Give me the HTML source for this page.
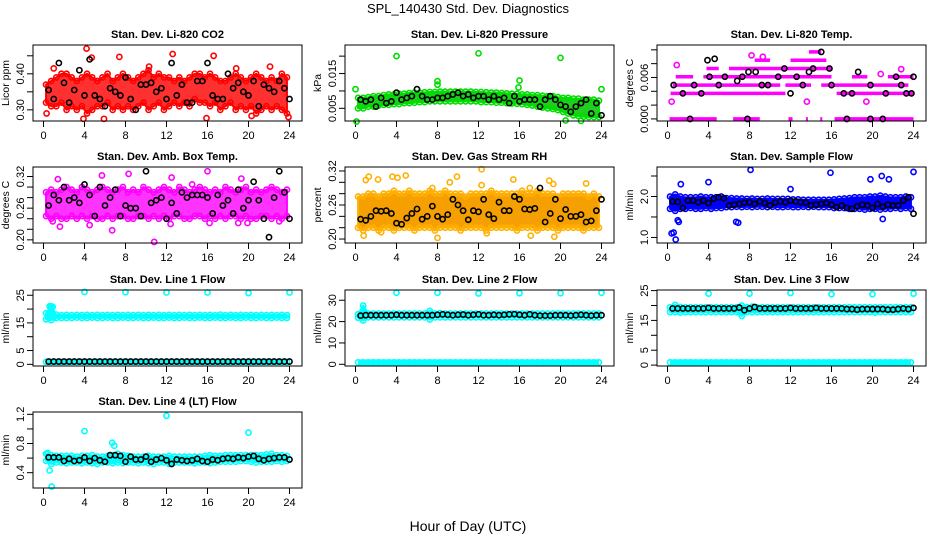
<!DOCTYPE html>
<html><head><meta charset="utf-8"><style>
html,body{margin:0;padding:0;background:#fff;}
svg{display:block;font-family:"Liberation Sans",sans-serif;}
</style></head><body>
<svg id="chart" width="936" height="540" viewBox="0 0 936 540">
<rect x="0" y="0" width="936" height="540" fill="#fff"/>
<text x="468" y="13" text-anchor="middle" font-size="13">SPL_140430  Std. Dev. Diagnostics</text>
<text x="468" y="531" text-anchor="middle" font-size="14">Hour of Day (UTC)</text>
</svg>
<script>
// ---------- data ----------
const xTicks = [0,4,8,12,16,20,24];

// CO2
const co2Lo = [0.32,0.31,0.31,0.32,0.30,0.31,0.30,0.31,0.29,0.30,0.31,0.31,0.32,0.30,0.31,0.30,0.31,0.30,0.31,0.32,0.30,0.31,0.32,0.30,0.31,0.32,0.31,0.32,0.31,0.33,0.32,0.32,0.31,0.32,0.30,0.31,0.32,0.30,0.31,0.30,0.31,0.29,0.30,0.31,0.30,0.31,0.30,0.29];
const co2Hi = [0.37,0.38,0.39,0.40,0.40,0.39,0.38,0.39,0.40,0.39,0.38,0.39,0.40,0.38,0.39,0.40,0.39,0.38,0.39,0.40,0.41,0.39,0.40,0.39,0.39,0.38,0.39,0.38,0.39,0.40,0.40,0.39,0.40,0.39,0.38,0.38,0.39,0.40,0.39,0.38,0.39,0.40,0.39,0.38,0.39,0.38,0.40,0.39];
const co2Black = [0.355,0.33,0.43,0.375,0.32,0.355,0.41,0.34,0.44,0.34,0.33,0.31,0.36,0.35,0.34,0.39,0.33,0.30,0.37,0.37,0.375,0.35,0.36,0.33,0.43,0.34,0.37,0.32,0.32,0.38,0.38,0.43,0.34,0.33,0.33,0.40,0.36,0.375,0.35,0.34,0.38,0.31,0.37,0.36,0.35,0.38,0.36,0.33];
const co2Out = [[4.2,0.47],[4.7,0.445],[7.4,0.447],[12.6,0.455],[16.6,0.45],[3.9,0.275],[5.9,0.275],[20.3,0.283],[15.9,0.277],[23.9,0.28],[0.3,0.29],[1.0,0.415],[10.3,0.42],[18.8,0.415],[22.1,0.42]];

// Pressure
const presLo = [0.0050,0.0050,0.0055,0.0055,0.0058,0.0060,0.0060,0.0062,0.0062,0.0065,0.0065,0.0066,0.0068,0.0068,0.0070,0.0070,0.0070,0.0070,0.0070,0.0070,0.0070,0.0070,0.0070,0.0070,0.0068,0.0068,0.0068,0.0066,0.0066,0.0065,0.0064,0.0063,0.0062,0.0060,0.0058,0.0055,0.0052,0.0050,0.0048,0.0045,0.0040,0.0035,0.0030,0.0028,0.0026,0.0025,0.0025,0.0025];
const presHi = [0.0080,0.0080,0.0082,0.0085,0.0085,0.0088,0.0090,0.0090,0.0092,0.0092,0.0094,0.0095,0.0095,0.0096,0.0097,0.0097,0.0098,0.0098,0.0098,0.0098,0.0098,0.0098,0.0098,0.0097,0.0097,0.0096,0.0095,0.0095,0.0094,0.0093,0.0092,0.0092,0.0090,0.0090,0.0088,0.0088,0.0086,0.0085,0.0085,0.0082,0.0080,0.0080,0.0078,0.0078,0.0075,0.0075,0.0075,0.0072];
const presBlack = [0.0075,0.007,0.0075,0.0055,0.008,0.0065,0.007,0.0095,0.0075,0.008,0.0085,0.0105,0.0085,0.0075,0.0075,0.008,0.008,0.0085,0.009,0.0095,0.0085,0.009,0.008,0.0085,0.0085,0.0075,0.0085,0.0075,0.008,0.0065,0.0085,0.007,0.0075,0.0075,0.0075,0.0055,0.0075,0.0085,0.0075,0.006,0.0055,0.004,0.0055,0.0065,0.0075,0.0035,0.0065,0.003];
const presOut = [[4,0.020],[12,0.0208],[20,0.0195],[8,0.0128],[8,0.0118],[16,0.013],[15.9,0.011],[0,0.0105],[24,0.0105],[0.1,0.0012],[20.5,0.0015],[22,0.0014]];

// Li-820 temperature: runs at quantized levels [level, start, end]
const tempRuns = [[0,0.2,4.8],[0,6.4,9],[0,11.8,12.2],[0,13.5,13.7],[0,14.9,15.1],[0,16.3,24],[0.0037,0.3,11.5],[0.0037,16.5,24],[0.0049,0.5,11],[0.0049,11.5,14],[0.0049,15,23.5],[0.0061,0.8,2.5],[0.0061,3.5,16],[0.0061,18,19.5],[0.0061,21.5,24],[0.0073,3.8,5],[0.0073,6,16],[0.0085,8.5,10],[0.0085,12,15.5],[0.0097,13.8,15]];
const tempBlack = [[0.6,0.0049],[1.5,0.0037],[2.2,0],[2.6,0.0049],[3.3,0.0037],[3.9,0.0085],[4.1,0.0061],[4.6,0.0087],[5,0.0049],[5.6,0.0061],[6.8,0.0055],[7.3,0.0061],[7.8,0],[7.9,0.0068],[8.6,0.0068],[9.2,0.0049],[9.8,0.0049],[10.8,0.0061],[11.4,0.0073],[12,0.0037],[12.6,0.0061],[13.2,0.0049],[13.8,0.0068],[14.2,0.0073],[15,0.0097],[15.8,0.0073],[16,0.0049],[17.5,0],[17.2,0.0037],[18,0.0037],[18.6,0.0068],[19.8,0],[19.8,0.0049],[21,0],[21.3,0.0037],[22.3,0.0061],[22.8,0.0049],[23.3,0.0037],[23.8,0.0037],[24,0.0061]];
const tempOut = [[0.4,0.0025],[0.9,0.0078],[8.2,0.0092],[9.3,0.009],[13.6,0.0025],[19.4,0.0025],[20.8,0.0065],[22.8,0.0072]];

// Ambient box temperature
const ambLo = [0.245,0.24,0.245,0.24,0.24,0.245,0.24,0.245,0.24,0.245,0.24,0.24,0.245,0.24,0.245,0.245,0.24,0.24,0.245,0.245,0.24,0.245,0.24,0.245,0.24,0.245,0.245,0.24,0.24,0.245,0.245,0.24,0.245,0.24,0.245,0.24,0.245,0.245,0.24,0.245,0.24,0.24,0.245,0.245,0.24,0.245,0.24,0.245];
const ambHi = [0.29,0.295,0.29,0.295,0.30,0.295,0.29,0.30,0.295,0.29,0.295,0.30,0.295,0.29,0.295,0.30,0.29,0.295,0.29,0.30,0.295,0.29,0.295,0.30,0.295,0.29,0.30,0.295,0.29,0.295,0.30,0.295,0.29,0.295,0.29,0.30,0.295,0.29,0.295,0.30,0.29,0.295,0.29,0.295,0.30,0.295,0.29,0.295];
const ambBlack = [0.265,0.285,0.275,0.30,0.275,0.28,0.27,0.305,0.285,0.245,0.30,0.265,0.28,0.295,0.245,0.265,0.26,0.26,0.245,0.33,0.27,0.275,0.28,0.24,0.27,0.25,0.29,0.28,0.285,0.285,0.285,0.28,0.25,0.285,0.265,0.275,0.25,0.295,0.26,0.275,0.31,0.275,0.24,0.205,0.28,0.33,0.29,0.24];
const ambOut = [[1.4,0.315],[1.6,0.225],[0.9,0.235],[5.7,0.322],[8.3,0.325],[4.5,0.228],[6.7,0.218],[10.8,0.196],[12.5,0.318],[12.4,0.23],[16,0.33],[16.2,0.232],[19,0.232],[19.9,0.232],[23,0.235],[19.3,0.316],[14.5,0.305]];

// Gas stream RH
const rhLo = [0.22,0.215,0.22,0.22,0.215,0.22,0.22,0.215,0.22,0.22,0.22,0.215,0.22,0.22,0.22,0.215,0.22,0.22,0.22,0.22,0.215,0.22,0.22,0.22,0.22,0.215,0.22,0.22,0.22,0.22,0.22,0.215,0.22,0.22,0.22,0.215,0.22,0.22,0.22,0.215,0.22,0.22,0.22,0.22,0.215,0.22,0.22,0.22];
const rhHi = [0.275,0.275,0.28,0.28,0.275,0.28,0.28,0.285,0.28,0.28,0.285,0.28,0.28,0.28,0.285,0.28,0.28,0.285,0.28,0.28,0.28,0.275,0.28,0.28,0.28,0.28,0.285,0.28,0.28,0.28,0.28,0.28,0.285,0.28,0.28,0.285,0.28,0.28,0.28,0.275,0.28,0.28,0.28,0.28,0.28,0.275,0.28,0.275];
const rhBlack = [0.235,0.233,0.24,0.25,0.249,0.25,0.245,0.228,0.226,0.237,0.245,0.253,0.235,0.24,0.258,0.24,0.235,0.243,0.27,0.26,0.25,0.234,0.25,0.248,0.27,0.243,0.236,0.265,0.25,0.25,0.275,0.27,0.253,0.252,0.254,0.29,0.23,0.245,0.27,0.236,0.252,0.24,0.24,0.243,0.23,0.232,0.25,0.27];
const rhOut = [[1.3,0.31],[1.0,0.304],[2.2,0.305],[3.6,0.31],[4.1,0.308],[4.9,0.312],[7.5,0.29],[9.2,0.3],[9.9,0.31],[12.3,0.323],[12.3,0.295],[15.4,0.305],[17,0.29],[18.9,0.303],[19.3,0.297],[22.5,0.298],[0.8,0.206],[2.5,0.212],[8,0.202],[17.1,0.206],[19.4,0.204],[12.8,0.21]];

// Sample flow
const flowLo = [1.70,1.65,1.70,1.70,1.72,1.70,1.70,1.72,1.70,1.72,1.72,1.74,1.74,1.75,1.74,1.75,1.74,1.75,1.75,1.74,1.75,1.74,1.74,1.75,1.74,1.74,1.75,1.74,1.75,1.74,1.74,1.74,1.72,1.72,1.72,1.70,1.70,1.70,1.68,1.70,1.70,1.68,1.70,1.70,1.72,1.70,1.72,1.70];
const flowHi = [2.00,2.05,2.00,1.98,1.98,1.98,2.00,1.98,1.98,1.98,2.00,1.96,1.96,1.95,1.95,1.94,1.95,1.94,1.94,1.95,1.94,1.94,1.94,1.94,1.93,1.93,1.92,1.92,1.92,1.92,1.92,1.92,1.93,1.94,1.95,1.96,1.98,1.98,1.98,2.00,2.00,2.02,2.00,1.98,1.98,1.98,2.00,1.98];
const flowBlack = [1.88,1.87,1.72,1.9,1.9,1.86,1.9,1.84,1.95,1.98,1.96,1.78,1.8,1.82,1.85,1.86,1.82,1.88,1.84,1.78,1.85,1.88,1.86,1.9,1.88,1.86,1.85,1.78,1.8,1.82,1.84,1.8,1.74,1.78,1.72,1.7,1.76,1.8,1.78,1.72,1.82,1.75,1.8,1.78,1.78,1.9,1.98,1.58];
const flowOut = [[0.4,1.1],[0.6,1.12],[0.8,0.95],[1.0,1.42],[1.1,1.38],[1.3,2.3],[4,2.35],[6.7,1.38],[6.9,1.36],[8.1,2.65],[12,2.18],[15.9,2.58],[19.8,2.42],[20.9,2.5],[21.6,2.42],[21,1.45],[24,2.6]];

// Line 1 flow
const l1Lo = [16.3,16.0,16.8,16.8,16.8,16.8,16.9,16.8,16.8,16.9,16.8,16.8,16.9,16.8,16.8,16.9,16.8,16.8,16.9,16.8,16.8,16.9,16.8,16.8,16.9,16.8,16.8,16.9,16.8,16.8,16.9,16.8,16.8,16.9,16.8,16.8,16.9,16.8,16.8,16.9,16.8,16.8,16.9,16.8,16.8,16.9,16.8,16.8];
const l1Hi = [18.5,21.0,18.0,17.8,17.9,17.8,17.9,17.8,17.9,17.8,17.9,17.8,17.9,17.8,17.9,17.8,17.9,17.8,17.9,17.8,17.9,17.8,17.9,17.8,17.9,17.8,17.9,17.8,17.9,17.8,17.9,17.8,17.9,17.8,18.0,17.8,17.9,17.8,17.9,17.8,17.9,17.8,17.9,17.8,17.9,17.8,17.9,17.8];
const l1Base = [0.9,0.9,0.9,0.9,0.9,0.9,0.9,0.9,0.9,0.9,0.9,0.9,0.9,0.9,0.9,0.9,0.9,0.9,0.9,0.9,0.9,0.9,0.9,0.9,0.9,0.9,0.9,0.9,0.9,0.9,0.9,0.9,0.9,0.9,0.9,0.9,0.9,0.9,0.9,0.9,0.9,0.9,0.9,0.9,0.9,0.9,0.9,0.9];
const l1Black = [1.0,1.0,1.0,1.0,1.0,1.0,1.0,1.0,1.0,1.0,1.0,1.0,1.0,1.0,1.0,1.0,1.0,1.0,1.0,1.0,1.0,1.0,1.0,1.0,1.0,1.0,1.0,1.0,1.0,1.0,1.0,1.0,1.0,1.0,1.0,1.0,1.0,1.0,1.0,1.0,1.0,1.0,1.0,1.0,1.0,1.0,1.0,1.0];
const l1Out = [[4,26.2],[8,26.1],[12,26.0],[16,26.0],[20,25.8],[24,26.0],[0.6,21.0],[0.9,20.8]];

// Line 2 flow
const l2Lo = [21.8,20.5,22.0,22.0,22.0,22.0,22.0,22.0,22.0,22.0,22.0,22.0,22.0,22.0,21.0,22.0,22.0,22.0,22.0,22.0,22.0,22.0,22.0,22.0,22.0,22.0,22.0,22.0,22.0,22.0,22.0,22.0,22.0,22.0,22.0,22.0,22.0,22.0,22.0,22.0,22.0,22.0,22.0,22.0,22.0,22.0,22.0,22.0];
const l2Hi = [23.5,27.5,23.8,23.8,23.8,23.8,23.8,23.8,23.8,23.8,23.8,23.8,23.8,23.8,25.0,23.8,24.0,23.8,23.8,23.8,23.8,23.8,23.8,23.8,23.8,23.8,23.8,23.8,23.8,23.8,23.8,23.8,23.8,23.8,23.8,23.8,23.8,23.8,23.8,23.8,23.8,23.8,23.8,23.8,23.8,23.8,23.8,23.8];
const l2Base = [0.9,0.9,0.9,0.9,0.9,0.9,0.9,0.9,0.9,0.9,0.9,0.9,0.9,0.9,0.9,0.9,0.9,0.9,0.9,0.9,0.9,0.9,0.9,0.9,0.9,0.9,0.9,0.9,0.9,0.9,0.9,0.9,0.9,0.9,0.9,0.9,0.9,0.9,0.9,0.9,0.9,0.9,0.9,0.9,0.9,0.9,0.9,0.9];
const l2Black = [22.8,23.0,23.0,23.0,23.0,23.0,23.0,23.2,23.0,23.0,23.0,23.0,23.0,23.0,23.0,23.2,23.4,23.2,23.0,23.2,23.3,23.0,23.2,23.4,23.0,23.0,23.2,23.0,23.2,23.4,23.5,23.2,23.0,23.4,23.0,22.8,22.8,22.8,23.0,23.0,23.0,22.8,23.0,23.2,23.0,22.8,23.0,23.0];
const l2Out = [[4,33.5],[8,33.5],[12,33.2],[16,33.3],[20,33.3],[24,33.5]];

// Line 3 flow
const l3Lo = [17.8,17.8,17.6,17.8,17.8,17.8,17.8,17.8,17.8,17.8,17.8,17.8,17.8,17.8,16.5,17.8,17.8,17.8,17.8,17.8,17.8,17.8,17.8,17.8,17.8,17.8,17.8,17.8,17.8,17.8,17.8,17.8,17.8,17.8,17.8,17.8,17.8,17.8,17.8,17.8,17.6,17.8,17.8,17.8,17.8,17.8,17.8,17.8];
const l3Hi = [19.4,20.2,19.5,19.4,19.4,19.4,19.4,19.4,19.4,19.4,19.4,19.4,19.4,19.4,20.0,19.4,19.6,19.4,19.4,19.4,19.4,19.4,19.4,19.4,19.4,19.4,19.4,19.4,19.4,19.4,19.4,19.4,19.4,19.4,19.4,19.4,19.4,19.4,19.4,19.4,19.4,19.4,19.4,19.4,19.4,19.4,19.4,19.4];
const l3Base = [0.9,0.9,0.9,0.9,0.9,0.9,0.9,0.9,0.9,0.9,0.9,0.9,0.9,0.9,0.9,0.9,0.9,0.9,0.9,0.9,0.9,0.9,0.9,0.9,0.9,0.9,0.9,0.9,0.9,0.9,0.9,0.9,0.9,0.9,0.9,0.9,0.9,0.9,0.9,0.9,0.9,0.9,0.9,0.9,0.9,0.9,0.9,0.9];
const l3Black = [19.0,19.0,19.0,19.0,19.0,19.0,19.0,19.2,19.0,19.0,19.0,19.0,19.0,19.3,18.4,19.0,19.5,19.0,19.0,19.0,19.0,19.0,19.0,19.2,19.0,19.0,19.0,19.0,19.2,19.0,19.0,19.0,19.0,19.0,18.8,18.8,18.6,18.8,18.8,18.8,18.8,18.8,18.6,18.6,18.8,19.0,18.8,19.2];
const l3Out = [[4,24.0],[8,24.0],[12,24.2],[16,23.8],[20,23.8],[24,24.0]];

// Line 4 (LT) flow
const l4Lo = [0.56,0.52,0.54,0.54,0.53,0.54,0.54,0.53,0.54,0.53,0.52,0.54,0.54,0.53,0.54,0.53,0.54,0.54,0.53,0.54,0.53,0.52,0.54,0.54,0.52,0.54,0.54,0.54,0.54,0.53,0.54,0.54,0.53,0.54,0.55,0.55,0.55,0.55,0.56,0.56,0.55,0.54,0.55,0.55,0.55,0.56,0.55,0.56];
const l4Hi = [0.66,0.64,0.63,0.63,0.63,0.63,0.62,0.63,0.63,0.64,0.62,0.62,0.63,0.64,0.66,0.64,0.63,0.62,0.62,0.62,0.63,0.62,0.62,0.62,0.63,0.62,0.62,0.62,0.62,0.62,0.62,0.63,0.64,0.63,0.63,0.64,0.64,0.64,0.64,0.64,0.64,0.64,0.64,0.65,0.66,0.64,0.64,0.63];
const l4Black = [0.61,0.61,0.61,0.56,0.59,0.56,0.57,0.61,0.56,0.60,0.57,0.55,0.64,0.64,0.63,0.55,0.62,0.58,0.58,0.62,0.55,0.58,0.60,0.57,0.52,0.58,0.57,0.56,0.57,0.59,0.56,0.55,0.58,0.57,0.59,0.60,0.59,0.61,0.60,0.62,0.63,0.59,0.57,0.59,0.60,0.61,0.61,0.58];
const l4Out = [[0.4,0.67],[0.6,0.43],[0.8,0.21],[4,0.97],[6.7,0.81],[6.9,0.77],[12,1.18],[20,0.95]];

// ---------- layout ----------
const svg = document.getElementById('chart');
const NS = 'http://www.w3.org/2000/svg';
const colLeft = [33,345,657], rowTop = [45,167,290,412];
const BW = 269, BH = 76;

function mk(tag, attrs, parent){
  const e = document.createElementNS(NS, tag);
  for (const k in attrs) e.setAttribute(k, attrs[k]);
  parent.appendChild(e);
  return e;
}

function panel(col, row, title, ylab, ymin, ymax, yticks, ylabels, name){
  const g = mk('g', {}, svg);
  
  
  const L = colLeft[col], T = rowTop[row];
  const xs = t => L + 10.5 + t * (246 / 24);
  const ys = v => T + BH - (v - ymin) / (ymax - ymin) * BH;
  const t = mk('text', {x: L + BW/2, y: T - 7, 'text-anchor':'middle', 'font-size':'11', 'font-weight':'bold'}, g);
  t.textContent = title;
  
  
  const yl = mk('text', {x: 0, y: 0, 'text-anchor':'middle', 'font-size':'10.5', transform:`translate(${L-24},${T+BH/2}) rotate(-90)`}, g);
  yl.textContent = ylab;
  
  
  const xa = mk('g', {}, g);
  
  
  xTicks.forEach(v => {
    mk('line', {x1: xs(v), x2: xs(v), y1: T+BH, y2: T+BH+6, stroke:'#000'}, xa);
    const tx = mk('text', {x: xs(v), y: T+BH+18, 'text-anchor':'middle', 'font-size':'11'}, xa);
    tx.textContent = v;
  });
  const ya = mk('g', {}, g);
  
  
  mk('line', {x1: L, x2: L, y1: ys(yticks[0]), y2: ys(yticks[yticks.length-1]), stroke:'#000'}, ya);
  yticks.forEach((v,i) => {
    mk('line', {x1: L-6, x2: L, y1: ys(v), y2: ys(v), stroke:'#000'}, ya);
    if (ylabels[i] !== '') {
      const tx = mk('text', {x:0, y:0, 'text-anchor':'middle', 'font-size':'11', transform:`translate(${L-9},${ys(v)}) rotate(-90)`}, ya);
      tx.textContent = ylabels[i];
    }
  });
  const clipId = 'clip-' + name;
  const cp = mk('clipPath', {id: clipId}, g);
  mk('rect', {x: L-4, y: T-4, width: BW+8, height: BH+8}, cp);
  const plot = mk('g', {'clip-path': `url(#${clipId})`}, g);
  const box = mk('rect', {x: L, y: T, width: BW, height: BH, fill:'none', stroke:'#000'}, g);
  
  
  return {xs, ys, plot};
}

function slotT(i){ return 0.25 + i * 0.5; }

function cloud(p, lo, hi, color, name, fill){
  const g = mk('g', {}, p.plot);
  
  
  let pts = lo.map((v,i) => p.xs(slotT(i)) + ',' + p.ys(v));
  pts = pts.concat(hi.map((v,i) => p.xs(slotT(i)) + ',' + p.ys(v)).reverse());
  mk('polygon', {points: pts.join(' '), fill: fill || color, stroke: color, 'stroke-width': 2, 'stroke-linejoin':'round'}, g);
  lo.forEach((v,i) => mk('circle', {cx: p.xs(slotT(i)), cy: p.ys(v), r: 2.6, fill:'none', stroke: color, 'stroke-width': 1.6}, g));
  hi.forEach((v,i) => mk('circle', {cx: p.xs(slotT(i)), cy: p.ys(v), r: 2.6, fill:'none', stroke: color, 'stroke-width': 1.6}, g));
}
function seriesRow(p, vals, color, name, dense){
  const g = mk('g', {}, p.plot);
  
  
  vals.forEach((v,i) => {
    const t = dense ? slotT(i) : 0.5 + i * 0.5;
    mk('circle', {cx: p.xs(t), cy: p.ys(v), r: 2.6, fill:'none', stroke: color, 'stroke-width': 1.6}, g);
  });
  if (dense) {
    mk('line', {x1: p.xs(slotT(0)), x2: p.xs(slotT(vals.length-1)), y1: p.ys(vals[0]), y2: p.ys(vals[vals.length-1]), stroke: color, 'stroke-width': 6}, g);
  }
}
function pairs(p, arr, color, name){
  const g = mk('g', {}, p.plot);
  
  
  arr.forEach(d => mk('circle', {cx: p.xs(d[0]), cy: p.ys(d[1]), r: 2.6, fill:'none', stroke: color, 'stroke-width': 1.6}, g));
}

const RED = '#ff0000', GRN = '#00dd00', MAG = '#ff00ff', BLU = '#0000ff', CYN = '#00ffff', ORG = '#ffb000';

let p = panel(0,0,'Stan. Dev. Li-820 CO2','Licor ppm',0.269,0.48,[0.30,0.35,0.40,0.45],['0.30','','0.40',''],'co2');
cloud(p, co2Lo, co2Hi, RED, 'co2-cloud', '#ff3030');
pairs(p, co2Out, RED, 'co2-outliers');
seriesRow(p, co2Black, '#000', 'co2-black-points');

p = panel(1,0,'Stan. Dev. Li-820 Pressure','kPa',0.00136,0.0232,[0.005,0.010,0.015,0.020],['0.005','','0.015',''],'pressure');
cloud(p, presLo, presHi, GRN, 'pressure-cloud', '#22cc22');
pairs(p, presOut, GRN, 'pressure-outliers');
seriesRow(p, presBlack, '#000', 'pressure-black-points');

p = panel(2,0,'Stan. Dev. Li-820 Temp.','degrees C',-0.0003,0.0107,[0,0.002,0.004,0.006,0.008,0.010],['0.000','','','0.006','',''],'li820-temp');
(function(){
  const g = mk('g', {}, p.plot);
  
  
  tempRuns.forEach(r => {
    mk('line', {x1: p.xs(r[1]), x2: p.xs(r[2]), y1: p.ys(r[0]), y2: p.ys(r[0]), stroke: MAG, 'stroke-width': 3.5}, g);
  });
})();
pairs(p, tempOut, MAG, 'li820-temp-outliers');
pairs(p, tempBlack, '#000', 'li820-temp-black-points');

p = panel(0,1,'Stan. Dev. Amb. Box Temp.','degrees C',0.194,0.338,[0.20,0.22,0.24,0.26,0.28,0.30,0.32],['0.20','','','0.26','','','0.32'],'amb-temp');
cloud(p, ambLo, ambHi, MAG, 'amb-temp-cloud', '#ff33ff');
pairs(p, ambOut, MAG, 'amb-temp-outliers');
seriesRow(p, ambBlack, '#000', 'amb-temp-black-points');

p = panel(1,1,'Stan. Dev. Gas Stream RH','percent',0.193,0.327,[0.20,0.22,0.24,0.26,0.28,0.30,0.32],['0.20','','','0.26','','','0.32'],'rh');
cloud(p, rhLo, rhHi, ORG, 'rh-cloud', '#f5a000');
pairs(p, rhOut, ORG, 'rh-outliers');
seriesRow(p, rhBlack, '#000', 'rh-black-points');

p = panel(2,1,'Stan. Dev. Sample Flow','ml/min',0.865,2.72,[1.0,1.5,2.0,2.5],['1.0','','2.0',''],'sample-flow');
cloud(p, flowLo, flowHi, BLU, 'sample-flow-cloud', '#0000ff');
pairs(p, flowOut, BLU, 'sample-flow-outliers');
seriesRow(p, flowBlack, '#000', 'sample-flow-black-points');

p = panel(0,2,'Stan. Dev. Line 1 Flow','ml/min',-0.6,26.9,[0,5,10,15,20,25],['0','5','','15','','25'],'line1');
cloud(p, l1Lo, l1Hi, CYN, 'line1-cloud', CYN);
seriesRow(p, l1Base, CYN, 'line1-base-points', true);
pairs(p, l1Out, CYN, 'line1-outliers');
seriesRow(p, l1Black, '#000', 'line1-black-points');

p = panel(1,2,'Stan. Dev. Line 2 Flow','ml/min',-0.8,34.8,[0,10,20,30],['0','10','20','30'],'line2');
cloud(p, l2Lo, l2Hi, CYN, 'line2-cloud', CYN);
seriesRow(p, l2Base, CYN, 'line2-base-points', true);
pairs(p, l2Out, CYN, 'line2-outliers');
seriesRow(p, l2Black, '#000', 'line2-black-points');

p = panel(2,2,'Stan. Dev. Line 3 Flow','ml/min',-0.3,25.2,[0,5,10,15,20,25],['0','5','','15','','25'],'line3');
cloud(p, l3Lo, l3Hi, CYN, 'line3-cloud', CYN);
seriesRow(p, l3Base, CYN, 'line3-base-points', true);
pairs(p, l3Out, CYN, 'line3-outliers');
seriesRow(p, l3Black, '#000', 'line3-black-points');

p = panel(0,3,'Stan. Dev. Line 4 (LT) Flow','ml/min',0.19,1.232,[0.4,0.6,0.8,1.0,1.2],['0.4','','0.8','','1.2'],'line4');
cloud(p, l4Lo, l4Hi, CYN, 'line4-cloud', CYN);
pairs(p, l4Out, CYN, 'line4-outliers');
seriesRow(p, l4Black, '#000', 'line4-black-points');
</script>
</body></html>
